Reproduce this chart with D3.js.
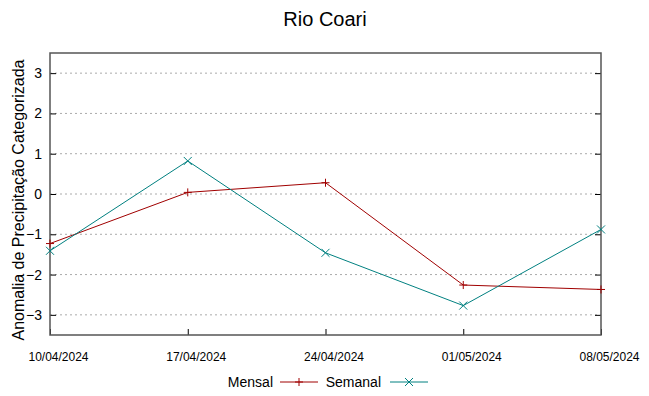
<!DOCTYPE html>
<html>
<head>
<meta charset="utf-8">
<script src="https://cdn.jsdelivr.net/npm/d3@7"></script>
<style>
body{margin:0;background:#fff;}
svg{display:block;}
.grid line{stroke:#aaa;stroke-dasharray:2,3;}
</style>
</head>
<body>
<div class="chart"></div>
<script>
// Data
const dates = ['10/04/2024','17/04/2024','24/04/2024','01/05/2024','08/05/2024'];
const mensal = [-1.23, 0.04, 0.28, -2.26, -2.37];
const semanal = [-1.41, 0.82, -1.46, -2.77, -0.88];
const yTicks = [-3,-2,-1,0,1,2,3];

const parseDate = d3.timeParse('%d/%m/%Y');

const svg_width = 649, svg_height = 396;
const margin = {top:53, right:48, bottom:61, left:50};
const w = svg_width - margin.left - margin.right;
const h = svg_height - margin.top - margin.bottom;

const svg = d3.select('.chart').append('svg')
  .attr('width', svg_width).attr('height', svg_height);

// title
svg.append('text').attr('x', 325).attr('y', 26)
  .attr('text-anchor','middle')
  .style('font-family','Liberation Sans, Arial, sans-serif')
  .style('font-size','20px').text('Rio Coari');

// y label
svg.append('text')
  .attr('transform','translate(24,' + (margin.top + h/2 + 6) + ') rotate(-90)')
  .attr('text-anchor','middle')
  .style('font-family','Liberation Sans, Arial, sans-serif')
  .style('font-size','16px').text('Anomalia de Precipitação Categorizada');

const g = svg.append('g').attr('transform', `translate(${margin.left},${margin.top})`);

const xScale = d3.scaleTime()
  .domain(d3.extent(dates, d => parseDate(d)))
  .range([0, w]);
const yScale = d3.scaleLinear().domain([-3.5, 3.5]).range([h, 0]);

// grid
g.append('g').attr('class','grid')
  .selectAll('line').data(yTicks).enter().append('line')
  .attr('x1',0).attr('x2',w)
  .attr('y1',d=>yScale(d)).attr('y2',d=>yScale(d));

// y axis (ticks inward on both sides)
const yAxis = d3.axisLeft(yScale).tickValues(yTicks).tickFormat(d3.format('d'))
  .tickSizeInner(-6).tickSizeOuter(0).tickPadding(8);
const yAxisDraw = g.append('g').call(yAxis);
yAxisDraw.select('.domain').remove();
yAxisDraw.selectAll('text').style('font-family','Liberation Sans, Arial, sans-serif').style('font-size','14px').attr('fill','#000');
yAxisDraw.selectAll('line').attr('stroke','#000');

const yAxisR = d3.axisRight(yScale).tickValues(yTicks).tickSizeInner(-6).tickSizeOuter(0).tickFormat('');
const yAxisRDraw = g.append('g').attr('transform',`translate(${w},0)`).call(yAxisR);
yAxisRDraw.select('.domain').remove();
yAxisRDraw.selectAll('line').attr('stroke','#000');

// x axis
const xAxis = d3.axisBottom(xScale)
  .tickValues(dates.map(parseDate))
  .tickFormat(d3.timeFormat('%d/%m/%Y'))
  .tickSizeInner(-6).tickSizeOuter(0).tickPadding(17);
const xAxisDraw = g.append('g').attr('transform',`translate(0,${h})`).call(xAxis);
xAxisDraw.select('.domain').remove();
xAxisDraw.selectAll('line').attr('stroke','#000');
xAxisDraw.selectAll('text')
  .attr('dx', 8)
  .style('font-family','Liberation Sans Narrow, Arial Narrow, sans-serif')
  .style('font-size','12px').attr('fill','#000');

// border
g.append('rect').attr('x',0).attr('y',0).attr('width',w).attr('height',h)
  .attr('fill','none').attr('stroke','#555').attr('stroke-width',1.5);

// series
const series = [
  {name:'Mensal', values:mensal, color:'#a00000', mark:'plus'},
  {name:'Semanal', values:semanal, color:'#008080', mark:'cross'}
];
const line = d3.line().x((d,i)=>xScale(parseDate(dates[i]))).y(d=>yScale(d));
function markPath(type){
  const s = 4;
  return type==='plus'
    ? `M${-s},0H${s}M0,${-s}V${s}`
    : `M${-s},${-s}L${s},${s}M${-s},${s}L${s},${-s}`;
}
series.forEach(s=>{
  g.append('path').datum(s.values).attr('d',line)
    .attr('fill','none').attr('stroke',s.color).attr('stroke-width',1);
  g.selectAll('.m-'+s.name).data(s.values).enter().append('path')
    .attr('transform',(d,i)=>`translate(${xScale(parseDate(dates[i]))},${yScale(d)})`)
    .attr('d',markPath(s.mark)).attr('stroke',s.color).attr('stroke-width',1).attr('fill','none');
});

// legend
const legend = svg.append('g').attr('transform','translate(0,382)');
const legendItems = [
  {x:273, lx:280, s:series[0]},
  {x:381, lx:390, s:series[1]}
];
legendItems.forEach(it=>{
  legend.append('text').attr('x',it.x).attr('y',5).attr('text-anchor','end')
    .style('font-family','Liberation Sans Narrow, Arial Narrow, sans-serif')
    .style('font-size','14px').text(it.s.name);
  legend.append('line').attr('x1',it.lx).attr('x2',it.lx+38).attr('y1',0).attr('y2',0)
    .attr('stroke',it.s.color);
  legend.append('path').attr('transform',`translate(${it.lx+19},0)`)
    .attr('d',markPath(it.s.mark)).attr('stroke',it.s.color).attr('fill','none');
});
</script>
</body>
</html>
